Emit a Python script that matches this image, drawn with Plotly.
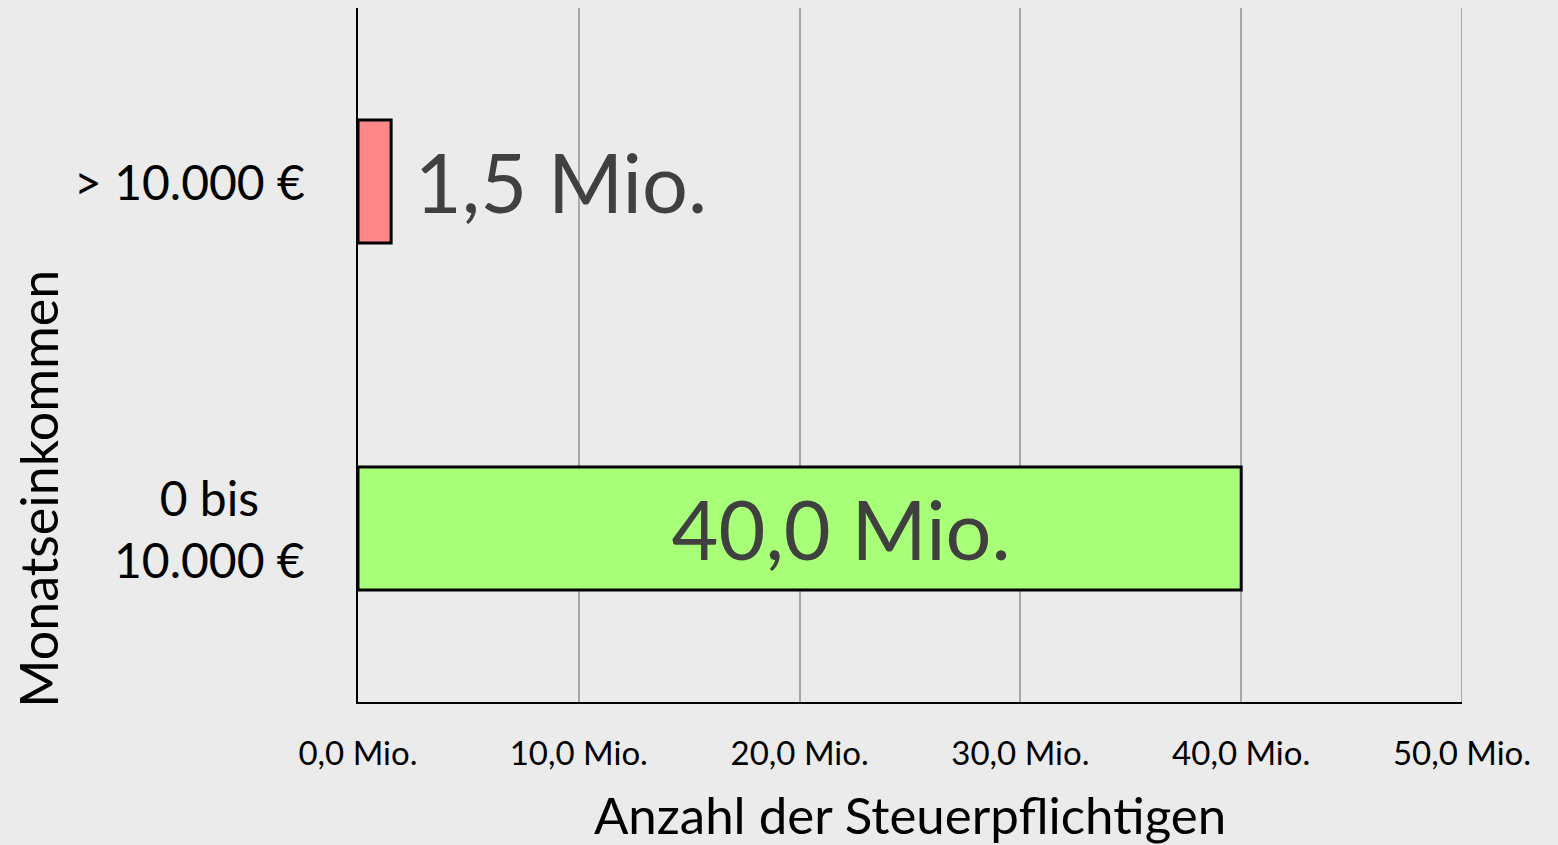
import plotly.graph_objects as go

categories = ["0 bis<br>10.000 €", "> 10.000 €"]
values = [40.0, 1.5]
bar_labels = ["    40,0 Mio.", " 1,5 Mio."]
bar_colors = ["#A8FF78", "#FF8888"]
tick_vals = [0, 10, 20, 30, 40, 50]
tick_labels = ["0,0 Mio.", "10,0 Mio.", "20,0 Mio.", "30,0 Mio.", "40,0 Mio.", "50,0 Mio."]

FONT = "Lato"
BG = "#EBEBEB"

fig = go.Figure()
fig.add_trace(go.Bar(
    x=values, y=[0, 1], orientation="h", width=0.355,
    marker=dict(color=bar_colors, line=dict(color="black", width=3)),
    text=bar_labels, textposition=["inside", "outside"],
    insidetextanchor="middle",
    textfont=dict(family=FONT, size=81, color="#404040"),
    outsidetextfont=dict(family=FONT, size=81, color="#404040"),
    insidetextfont=dict(family=FONT, size=81, color="#404040"),
    cliponaxis=False, hoverinfo="skip",
))

fig.add_vline(x=tick_vals[-1], line=dict(color="#A6A6A6", width=2), layer="below")

for i, c in enumerate(categories):
    fig.add_annotation(text=c, xref="paper", yref="y", x=-0.046, y=i,
                       xanchor="right", yanchor="middle", align="center",
                       showarrow=False,
                       font=dict(family=FONT, size=48, color="black"))

fig.add_annotation(text="Monatseinkommen", xref="paper", yref="paper",
                   x=-0.29, y=0.307, textangle=-90, showarrow=False,
                   xanchor="center", yanchor="middle",
                   font=dict(family=FONT, size=52, color="black"))

fig.update_layout(
    width=1558, height=845,
    paper_bgcolor=BG, plot_bgcolor=BG,
    margin=dict(l=358, r=96, t=8, b=143),
    showlegend=False,
    font=dict(family=FONT, color="black"),
    xaxis=dict(range=[0, 50], tickvals=tick_vals, ticktext=tick_labels,
               showgrid=True, gridcolor="#A6A6A6", gridwidth=2,
               showline=True, linecolor="black", linewidth=2,
               zeroline=False, ticks="", ticklabelstandoff=21,
               tickfont=dict(family=FONT, size=33, color="black"),
               title=dict(text="Anzahl der Steuerpflichtigen",
                          font=dict(family=FONT, size=51, color="black"),
                          standoff=29)),
    yaxis=dict(range=[-0.5, 1.5], showticklabels=False, showgrid=False,
               showline=True, linecolor="black", linewidth=2,
               zeroline=False, ticks=""),
)

fig.write_html("out.html", config={"displayModeBar": False},
               post_script="document.body.style.margin='0';document.body.style.padding='0';")
